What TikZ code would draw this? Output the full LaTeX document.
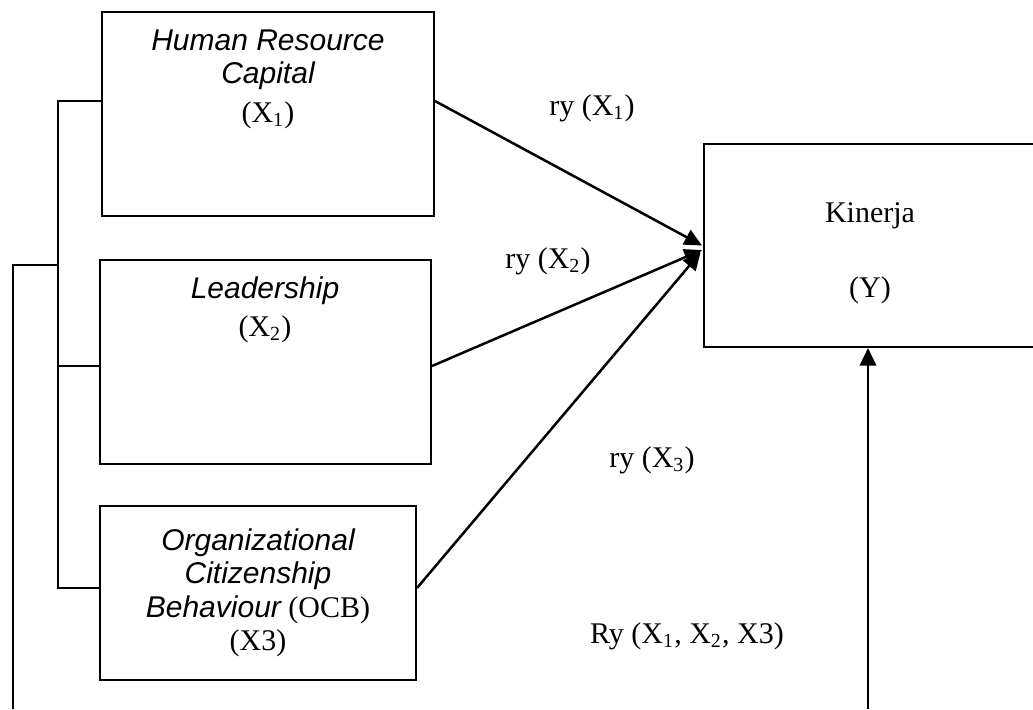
\documentclass[tikz,border=0pt]{standalone}
\usepackage{fontspec}
\setmainfont{Liberation Serif}
\newfontfamily\hlvfont{Liberation Sans}
\usetikzlibrary{arrows.meta}
\usetikzlibrary{positioning}
\tikzset {
  var box/.style = {
    draw = black,
    line width = 0.8pt,
    inner sep = 0
  },
  % text line set on its baseline
  var text/.style = {
    anchor = base,
    inner sep = 0,
    font = \fontsize{12}{14}\selectfont
  },
  % italic name of a variable
  var name/.style = {
    var text,
    font = \fontsize{12}{14}\selectfont\hlvfont\itshape
  },
  coef/.style = {
    var text
  }
}
\tikzset {
  path arr/.style = {
    draw = black,
    line width = 1pt,
    -{Triangle[length = 7pt, width = 6.5pt]}
  },
  link/.style = {
    draw = black,
    line width = 0.8pt
  },
  thin link/.style = {
    draw = black,
    line width = 0.5pt
  }
}

\begin{document}
\begin{tikzpicture}[x = 0.4pt, y = -0.4pt]
    \useasboundingbox (0,0) rectangle (1033,709);
    \clip (0,0) rectangle (1033,709);

    \node[var box, minimum width = 132.8pt, minimum height = 81.6pt] (hrc) at (268,114) {};
    \node[var box, minimum width = 132.4pt, minimum height = 81.6pt] (lead) at (265.5,362) {};
    \node[var box, minimum width = 126.4pt, minimum height = 69.6pt] (ocb) at (258,593) {};
    \node[var box, minimum width = 132.8pt, minimum height = 81.2pt] (kin) at (870,245.5) {};

    \node[var name] (hrc-a) at (268,50) {Human Resource};
    \node[var name] (hrc-b) at (268,83) {Capital};
    \node[var text] (hrc-c) at (268,122) {(X\textsubscript{1})};

    \node[var name] (lead-a) at (265,298) {Leadership};
    \node[var text] (lead-b) at (265,336) {(X\textsubscript{2})};

    \node[var name] (ocb-a) at (258,550) {Organizational};
    \node[var name] (ocb-b) at (258,583) {Citizenship};
    \node[var text] (ocb-c) at (258,617) {{\hlvfont\itshape Behaviour} (OCB)};
    \node[var text] (ocb-d) at (258,650) {(X3)};

    \node[var text] (kin-a) at (870,222) {Kinerja};
    \node[var text] (kin-b) at (870,297) {(Y)};

    \node[coef] (ry-one) at (592,115) {ry (X\textsubscript{1})};
    \node[coef] (ry-two) at (548,268) {ry (X\textsubscript{2})};
    \node[coef] (ry-three) at (652,467) {ry (X\textsubscript{3})};
    \node[coef] (ry-all) at (687,643) {Ry (X\textsubscript{1}, X\textsubscript{2}, X3)};

    \coordinate (brk-top) at (58,101);
    \coordinate (brk-mid) at (58,366);
    \coordinate (brk-bot) at (58,588);
    \coordinate (outer-top) at (13,265);
    \coordinate (outer-bot) at (13,709);
    \coordinate (kin-foot) at (868,709);

    \draw[link] (hrc.west |- brk-top)
    -- (brk-top)
    -- (brk-bot)
    -- (ocb.west |- brk-bot);

    \draw[thin link] (brk-mid)
    -- (lead.west |- brk-mid);

    \draw[link] (outer-bot)
    -- (outer-top)
    -- (brk-top |- outer-top);

    \draw[path arr] (hrc.east |- brk-top)
    -- ([xshift = -0.4pt]kin.west);

    \draw[path arr] (lead.east |- brk-mid)
    -- ([xshift = -0.4pt, yshift = -1.8pt]kin.west);

    \draw[path arr] (ocb.east |- brk-bot)
    -- ([xshift = -1pt, yshift = -2.8pt]kin.west);

    \draw[path arr] (kin-foot)
    -- (kin-foot |- kin.south);
\end{tikzpicture}
\end{document}
